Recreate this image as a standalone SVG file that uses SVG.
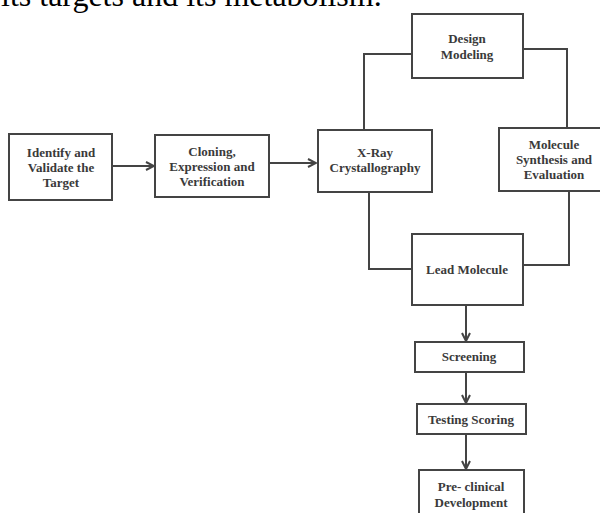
<svg xmlns="http://www.w3.org/2000/svg" width="600" height="513" viewBox="0 0 600 513">
  <defs>
    <marker id="arrow" viewBox="0 0 10 10" refX="9" refY="5" markerWidth="5" markerHeight="5" orient="auto" markerUnits="strokeWidth">
      <path d="M1,1 L9,5 L1,9" fill="none" stroke="#444" stroke-width="2"/>
    </marker>
  </defs>
  <style>
    .box { fill: #fff; stroke: #444; stroke-width: 2; }
    .lbl { font-family: "Liberation Serif", "Times New Roman", serif; font-weight: bold; font-size: 13px; fill: #3a3a3a; text-anchor: middle; }
    .line { fill: none; stroke: #444; stroke-width: 2; }
    .arr { fill: none; stroke: #444; stroke-width: 2; marker-end: url(#arrow); }
  </style>
  <rect width="600" height="513" fill="#fff"/>

  <!-- running text above the figure -->
  <text x="1" y="6" font-family="Liberation Serif, Times New Roman, serif" font-size="32" fill="#000">its targets and its metabolism.</text>

  <g id="connectors">
    <line class="arr" x1="112" y1="166" x2="154" y2="166"/>
    <line class="arr" x1="269" y1="163" x2="316" y2="163"/>
    <polyline class="line" points="364,130 364,54 412,54"/>
    <polyline class="line" points="523,49 567,49 567,128"/>
    <polyline class="line" points="369,192 369,269 412,269"/>
    <polyline class="line" points="523,265 569,265 569,191"/>
    <line class="arr" x1="466" y1="305" x2="466" y2="341"/>
    <line class="arr" x1="466" y1="372" x2="466" y2="403"/>
    <line class="arr" x1="466" y1="434" x2="466" y2="469"/>
  </g>

  <g id="identify">
    <rect class="box" x="9" y="134" width="103" height="66"/>
    <text class="lbl" x="61" y="157">Identify and</text>
    <text class="lbl" x="61" y="172">Validate the</text>
    <text class="lbl" x="61" y="187">Target</text>
  </g>

  <g id="cloning">
    <rect class="box" x="155" y="135" width="114" height="62"/>
    <text class="lbl" x="212" y="156">Cloning,</text>
    <text class="lbl" x="212" y="171">Expression and</text>
    <text class="lbl" x="212" y="186">Verification</text>
  </g>

  <g id="xray">
    <rect class="box" x="318" y="130" width="114" height="62"/>
    <text class="lbl" x="375" y="157">X-Ray</text>
    <text class="lbl" x="375" y="172">Crystallography</text>
  </g>

  <g id="design">
    <rect class="box" x="412" y="14" width="111" height="64"/>
    <text class="lbl" x="467" y="43">Design</text>
    <text class="lbl" x="467" y="59">Modeling</text>
  </g>

  <g id="synthesis">
    <rect class="box" x="499" y="128" width="112" height="63"/>
    <text class="lbl" x="554" y="149">Molecule</text>
    <text class="lbl" x="554" y="164">Synthesis and</text>
    <text class="lbl" x="554" y="179">Evaluation</text>
  </g>

  <g id="lead">
    <rect class="box" x="412" y="234" width="111" height="71"/>
    <text class="lbl" x="467" y="274">Lead Molecule</text>
  </g>

  <g id="screening">
    <rect class="box" x="415" y="342" width="109" height="30"/>
    <text class="lbl" x="469" y="361">Screening</text>
  </g>

  <g id="testing">
    <rect class="box" x="417" y="404" width="109" height="30"/>
    <text class="lbl" x="471" y="424">Testing Scoring</text>
  </g>

  <g id="preclinical">
    <rect class="box" x="419" y="470" width="105" height="52"/>
    <text class="lbl" x="471" y="491">Pre- clinical</text>
    <text class="lbl" x="471" y="507">Development</text>
  </g>
</svg>
